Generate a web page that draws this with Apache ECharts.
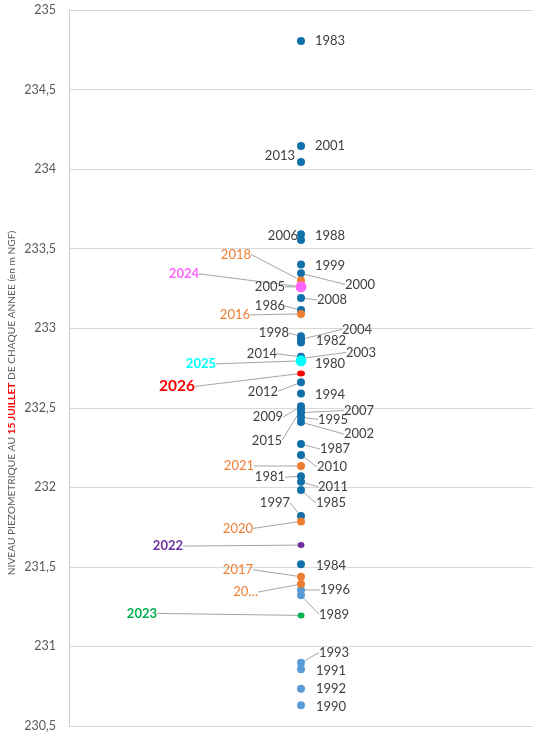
<!DOCTYPE html>
<html>
<head>
<meta charset="utf-8">
<script src="https://cdn.jsdelivr.net/npm/echarts@6/dist/echarts.min.js"></script>
<style>
html,body{margin:0;padding:0;background:#fff;}
#chart{width:533px;height:736px;}
</style>
</head>
<body>
<div id="chart"></div>
<script>
// ---- DATA ----
const years = [1980,1981,1982,1983,1984,1985,1986,1987,1988,1989,
  1990,1991,1992,1993,1994,1995,1996,1997,1998,1999,
  2000,2001,2002,2003,2004,2005,2006,2007,2008,2009,
  2010,2011,2012,2013,2014,2015,2016,2017,2018,2019,
  2020,2021,2022,2023,2024,2025,2026];
const levels = [232.79,232.07,232.91,234.805,231.516,231.983,233.114,232.272,233.59,231.321,
  230.63,230.856,230.734,230.898,232.59,232.44,231.355,231.82,232.95,233.40,
  233.345,234.145,232.41,232.81,232.93,233.26,233.555,232.47,233.19,232.51,
  232.203,232.035,232.66,234.045,232.82,232.49,233.09,231.438,233.30,231.392,
  231.786,232.134,231.637,231.195,233.26,232.795,232.716];
const yTicks = [230.5,231,231.5,232,232.5,233,233.5,234,234.5,235];
const axisTitle = ['NIVEAU PIEZOMETRIQUE AU ', '15 JUILLET', ' DE CHAQUE ANNEE (en m NGF)'];
const labelTextOverride = {2019: '20…'};

// ---- STYLE ----
const darkBlue = '#1170AA', lightBlue = '#5B9BD5', orange = '#ED7D31';
const lightBlueYears = [1989,1990,1991,1992,1993,1996];
const special = {
  2022: {color:'#7030A0', size:[7,6], bold:true, fs:13},
  2023: {color:'#00B050', size:[7,6], bold:true, fs:13},
  2024: {color:'#FF66FF', size:11, bold:true, fs:13},
  2025: {color:'#00FFFF', size:11, bold:true, fs:13},
  2026: {color:'#FF0000', size:[8,6], bold:true, fs:15.5}
};
// side, horizontal gap from dot centre to label edge, vertical offset, leader line
const place = {
  1983:['R',14,0,0],2001:['R',14,0,0],2013:['L',6,-6,0],1988:['R',14,1,0],2006:['L',3,-4,0],
  1999:['R',14,1,0],2000:['R',44,11,1],2018:['L',50,-26,1],2024:['L',102,-13,1],2005:['L',16,0,1],
  2008:['R',16,2,1],1986:['L',16,-4,1],2016:['L',51,1,1],1998:['L',12,-3,1],2004:['R',41,-10,1],
  1982:['R',15,-2,0],2014:['L',24,-3,1],2003:['R',45,-6,1],2025:['L',85,3,1],1980:['R',14,2,0],
  2026:['L',106,13,1],2012:['L',23,9,1],1994:['R',14,1,0],2009:['L',18,11,1],2015:['L',19,31,1],
  2007:['R',43,-2,1],1995:['R',17,2,1],2002:['R',43,12,1],1987:['R',19,5,1],2010:['R',16,12,1],
  2021:['L',47,0,1],1981:['L',16,1,1],2011:['R',17,5,1],1985:['R',15,13,1],1997:['L',11,-13,1],
  2020:['L',48,7,1],2022:['L',118,1,1],1984:['R',15,1,0],2017:['L',48,-7,1],2019:['L',43,8,1],
  1996:['R',19,0,1],1989:['R',18,19,1],2023:['L',144,-2,1],1993:['R',18,-10,1],1991:['R',15,1,0],
  1992:['R',15,0,0],1990:['R',15,1,0]
};

function colorOf(y){
  if (special[y]) return special[y].color;
  if (y >= 2016 && y <= 2021) return orange;
  if (lightBlueYears.includes(y)) return lightBlue;
  return darkBlue;
}

const data = years.map((y, i) => {
  const sp = special[y];
  const c = colorOf(y);
  const p = place[y];
  let labelColor = '#404040';
  if (sp) labelColor = sp.color;
  else if (y >= 2016 && y <= 2021) labelColor = orange;
  return {
    value: [0.5, levels[i]],
    name: String(y),
    symbolSize: sp ? sp.size : 8,
    itemStyle: {color: c, opacity: 1},
    label: {
      formatter: labelTextOverride[y] || String(y),
      color: labelColor,
      fontWeight: sp && sp.bold ? 'bold' : 'normal',
      fontSize: sp ? sp.fs : 13
    },
    labelLine: {show: !!p[3]}
  };
});

const chart = echarts.init(document.getElementById('chart'), null, {renderer:'canvas'});
chart.setOption({
  animation: false,
  backgroundColor: '#fff',
  grid: {left: 69, right: -2, top: 10, bottom: 10},
  xAxis: {type:'value', min:0, max:1, show:false},
  yAxis: {
    type:'value', min:230.5, max:235, interval:0.5,
    axisLine:{show:true, lineStyle:{color:'#D0D0D0', width:1}},
    axisTick:{show:false},
    splitLine:{show:true, lineStyle:{color:'#D9D9D9', width:1}},
    axisLabel:{
      margin: 13, color:'#595959', fontFamily:'Lato', fontSize:12.5,
      customValues: yTicks,
      formatter: v => String(Math.round(v*10)/10).replace('.', ',')
    }
  },
  graphic: [{
    type:'text', x: 12, y: 403, rotation: Math.PI/2,
    style: {
      text: '{a|' + axisTitle[0] + '}{b|' + axisTitle[1] + '}{a|' + axisTitle[2] + '}',
      align:'center', verticalAlign:'middle',
      rich: {
        a: {fontFamily:'Lato', fontSize:10.2, fill:'#595959', color:'#595959'},
        b: {fontFamily:'Lato', fontSize:10.2, fontWeight:'bold', fill:'#FF0000', color:'#FF0000'}
      }
    }
  }],
  series: [{
    type:'scatter',
    data: data,
    itemStyle: {opacity: 1},
    label: {show:true, position:'right', fontFamily:'Lato', fontSize:13, color:'#404040'},
    labelLine: {show:false, lineStyle:{color:'#A6A6A6', width:1}},
    labelLayout: function(params){
      const y = years[params.dataIndex];
      const p = place[y];
      const r = params.rect;
      const cx = r.x + r.width/2, cy = r.y + r.height/2;
      return {
        x: p[0] === 'R' ? cx + p[1] : cx - p[1],
        y: cy + p[2],
        align: p[0] === 'R' ? 'left' : 'right',
        verticalAlign: 'middle'
      };
    }
  }]
});
</script>
</body>
</html>
